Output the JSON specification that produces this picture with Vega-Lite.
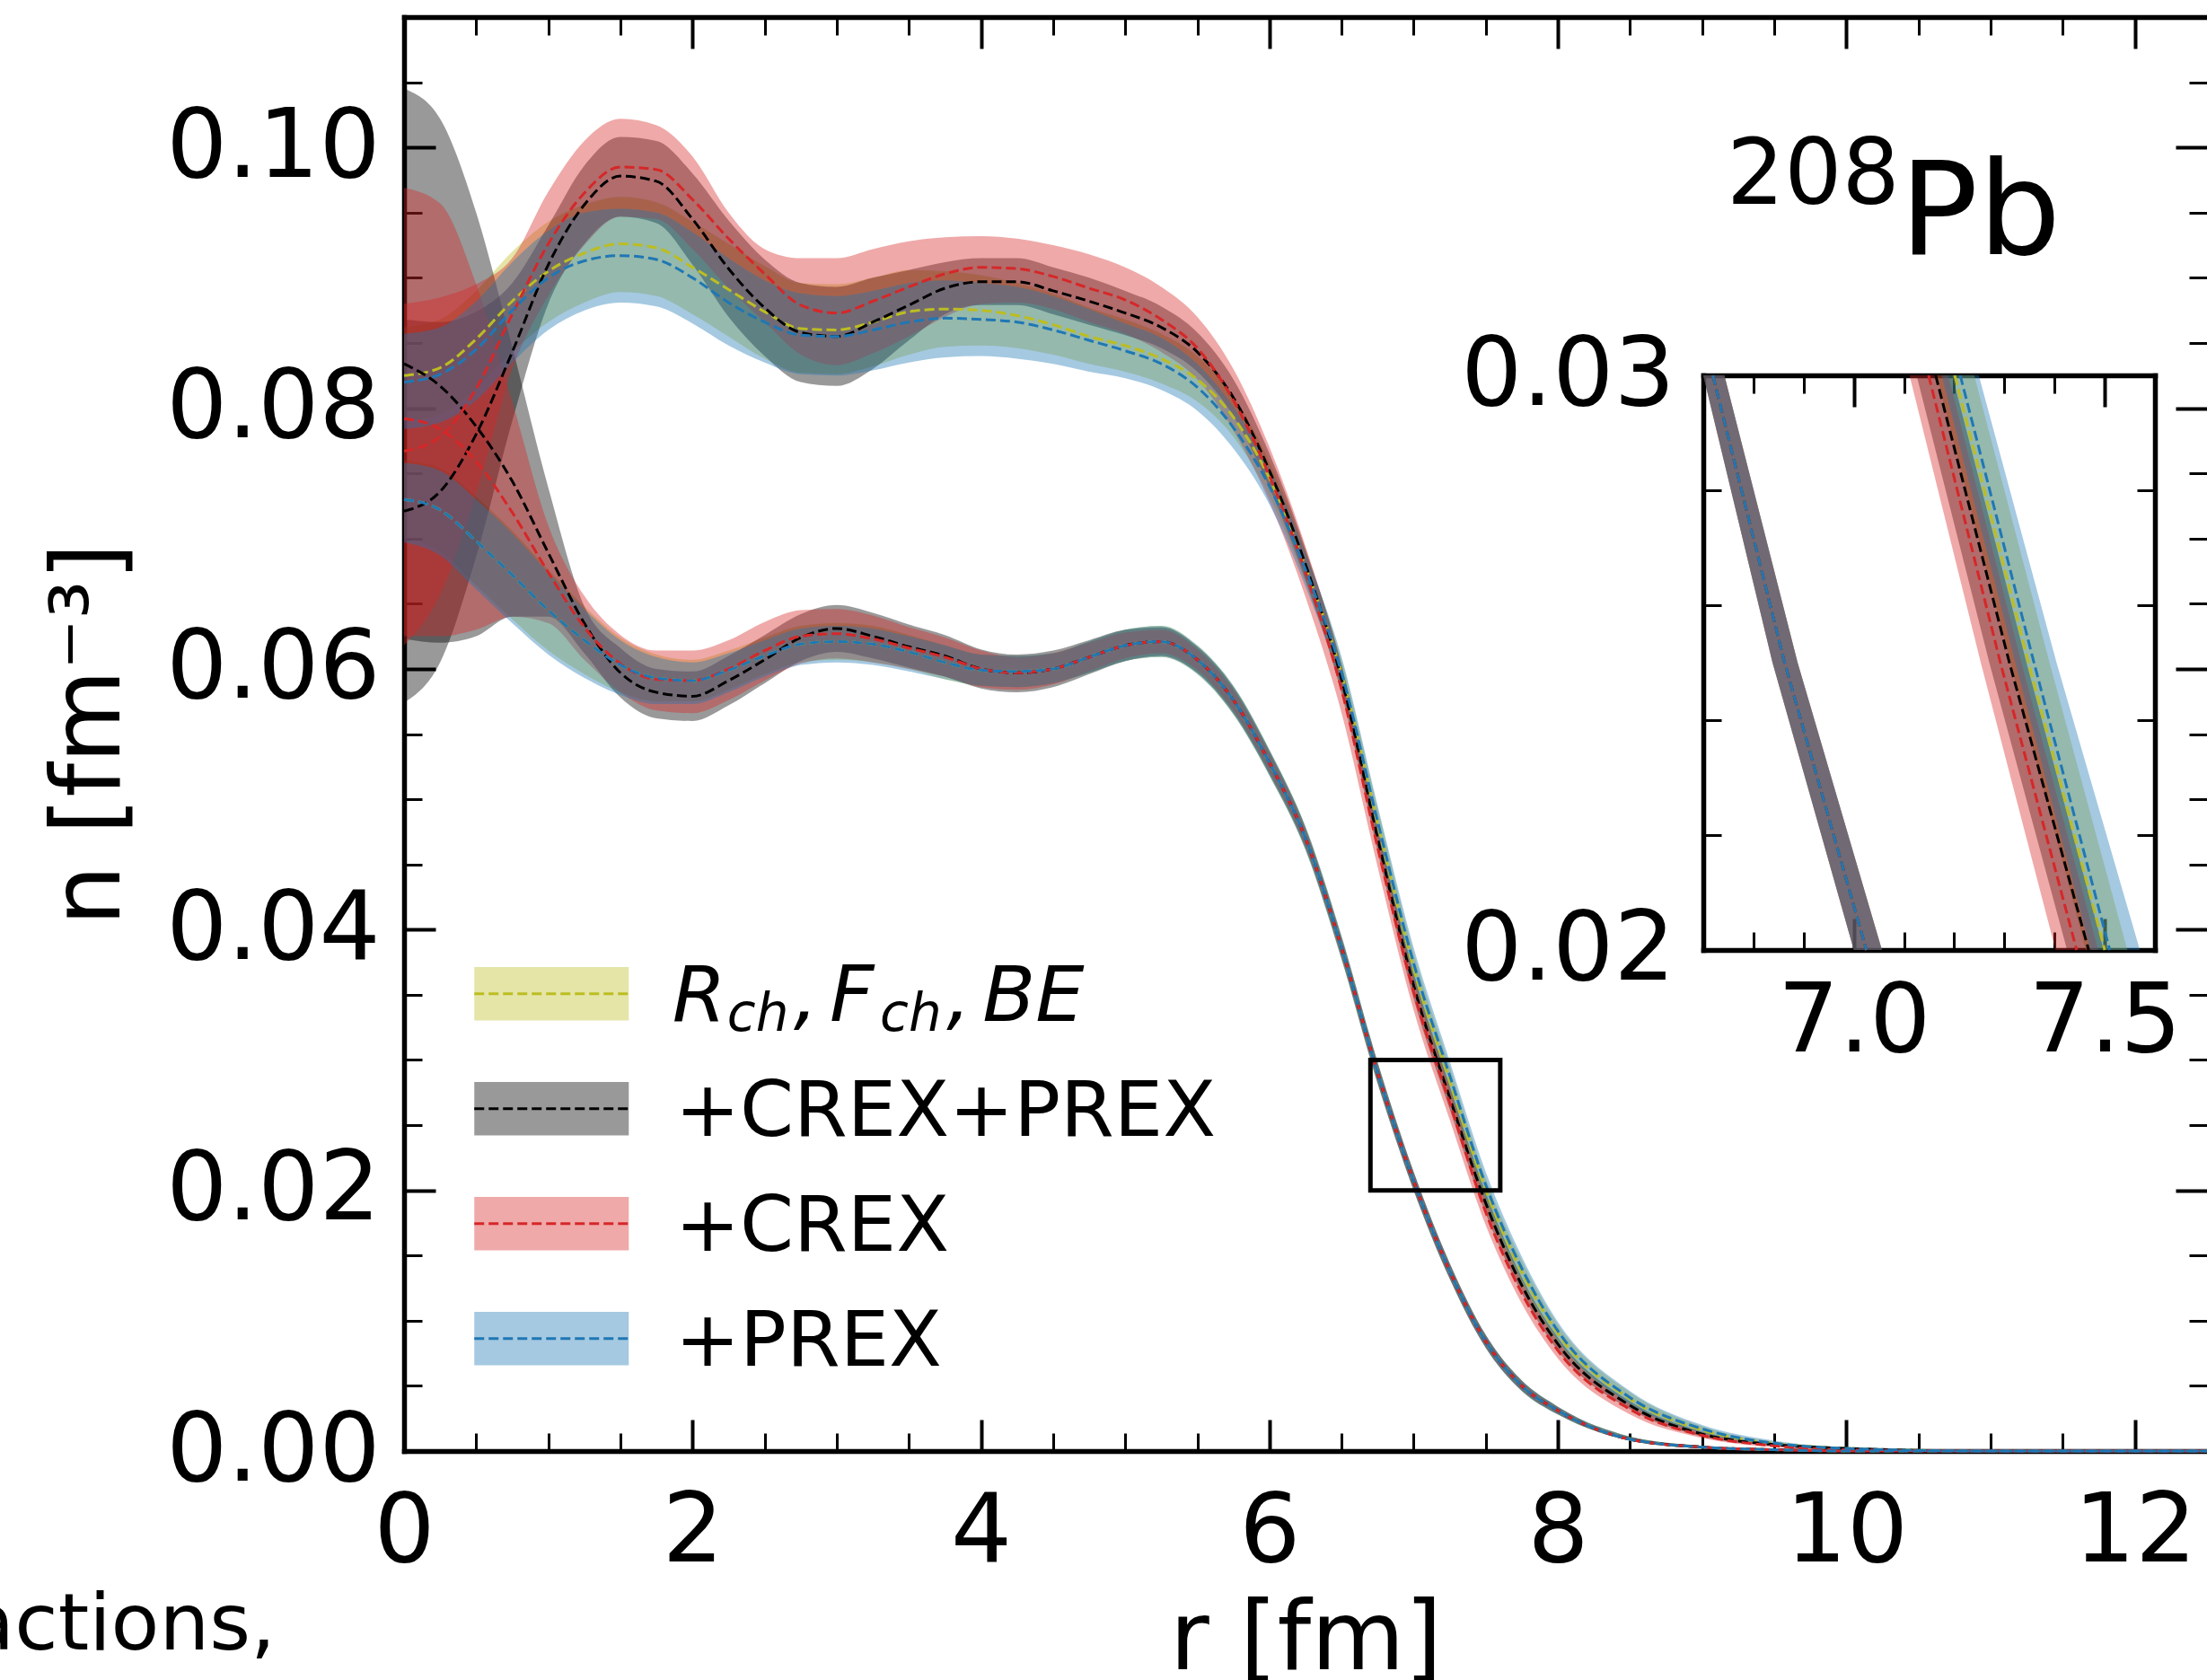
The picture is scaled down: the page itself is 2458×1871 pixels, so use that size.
{
"$schema": "https://vega.github.io/schema/vega-lite/v6.json",
"width": 2008, "height": 1597,
"autosize": {"type": "none"},
"padding": {"left": 450, "top": 19, "right": 0, "bottom": 255},
"background": "white",
"config": {
 "view": {"stroke": null},
 "font": "DejaVu Sans",
 "axis": {"grid": false, "domainColor": "black", "tickColor": "black", "labelColor": "black", "titleColor": "black",
  "labelFont": "DejaVu Sans", "titleFont": "DejaVu Sans", "labelFontSize": 107, "titleFontSize": 107, "titleFontWeight": "normal",
  "domainWidth": 5.5, "labelOverlap": false, "labelFlush": false, "labelBound": false, "labelLimit": 0, "titleLimit": 0, "domainCap": "square"}
},
"datasets": {
"main": [
{"r":0,"f":"n","s":"Y","lo":0.0790,"c":0.0825,"hi":0.0862},{"r":0.25,"f":"n","s":"Y","lo":0.0795,"c":0.0831,"hi":0.0868},{"r":0.5,"f":"n","s":"Y","lo":0.0815,"c":0.0853,"hi":0.0890},{"r":0.75,"f":"n","s":"Y","lo":0.0843,"c":0.0882,"hi":0.0920},{"r":1,"f":"n","s":"Y","lo":0.0866,"c":0.0905,"hi":0.0943},{"r":1.25,"f":"n","s":"Y","lo":0.0881,"c":0.0919,"hi":0.0956},{"r":1.5,"f":"n","s":"Y","lo":0.0889,"c":0.0926,"hi":0.0962},{"r":1.75,"f":"n","s":"Y","lo":0.0886,"c":0.0923,"hi":0.0958},{"r":2,"f":"n","s":"Y","lo":0.0872,"c":0.0908,"hi":0.0943},{"r":2.25,"f":"n","s":"Y","lo":0.0855,"c":0.0891,"hi":0.0926},{"r":2.5,"f":"n","s":"Y","lo":0.0838,"c":0.0874,"hi":0.0909},{"r":2.75,"f":"n","s":"Y","lo":0.0827,"c":0.0861,"hi":0.0896},{"r":3,"f":"n","s":"Y","lo":0.0826,"c":0.0860,"hi":0.0895},{"r":3.25,"f":"n","s":"Y","lo":0.0832,"c":0.0866,"hi":0.0900},{"r":3.5,"f":"n","s":"Y","lo":0.0841,"c":0.0874,"hi":0.0906},{"r":3.75,"f":"n","s":"Y","lo":0.0847,"c":0.0876,"hi":0.0905},{"r":4,"f":"n","s":"Y","lo":0.0848,"c":0.0875,"hi":0.0902},{"r":4.25,"f":"n","s":"Y","lo":0.0846,"c":0.0871,"hi":0.0896},{"r":4.5,"f":"n","s":"Y","lo":0.0841,"c":0.0864,"hi":0.0888},{"r":4.75,"f":"n","s":"Y","lo":0.0834,"c":0.0855,"hi":0.0877},{"r":5,"f":"n","s":"Y","lo":0.0828,"c":0.0848,"hi":0.0868},{"r":5.25,"f":"n","s":"Y","lo":0.0819,"c":0.0838,"hi":0.0857},{"r":5.5,"f":"n","s":"Y","lo":0.0805,"c":0.0822,"hi":0.0840},{"r":5.75,"f":"n","s":"Y","lo":0.0778,"c":0.0793,"hi":0.0809},{"r":6,"f":"n","s":"Y","lo":0.0732,"c":0.0746,"hi":0.0759},{"r":6.25,"f":"n","s":"Y","lo":0.0666,"c":0.0678,"hi":0.0690},{"r":6.5,"f":"n","s":"Y","lo":0.0584,"c":0.0596,"hi":0.0607},{"r":6.75,"f":"n","s":"Y","lo":0.0470,"c":0.0481,"hi":0.0493},{"r":7,"f":"n","s":"Y","lo":0.0359,"c":0.0370,"hi":0.0382},{"r":7.25,"f":"n","s":"Y","lo":0.0274,"c":0.0284,"hi":0.0295},{"r":7.5,"f":"n","s":"Y","lo":0.0190,"c":0.0200,"hi":0.0209},{"r":7.75,"f":"n","s":"Y","lo":0.0129,"c":0.0137,"hi":0.0146},{"r":8,"f":"n","s":"Y","lo":0.0084,"c":0.0090,"hi":0.0097},{"r":8.5,"f":"n","s":"Y","lo":0.0036,"c":0.0040,"hi":0.0045},{"r":9,"f":"n","s":"Y","lo":0.0014,"c":0.0016,"hi":0.0019},{"r":9.5,"f":"n","s":"Y","lo":0.0005,"c":0.0006,"hi":0.0007},{"r":10,"f":"n","s":"Y","lo":0.0001,"c":0.0002,"hi":0.0003},{"r":11,"f":"n","s":"Y","lo":0,"c":0,"hi":0.0001},{"r":12.5,"f":"n","s":"Y","lo":0,"c":0,"hi":0},
{"r":0,"f":"n","s":"K","lo":0.0574,"c":0.0721,"hi":0.0868},{"r":0.25,"f":"n","s":"K","lo":0.0605,"c":0.0736,"hi":0.0866},{"r":0.5,"f":"n","s":"K","lo":0.0686,"c":0.0780,"hi":0.0874},{"r":0.75,"f":"n","s":"K","lo":0.0790,"c":0.0843,"hi":0.0896},{"r":1,"f":"n","s":"K","lo":0.0880,"c":0.0910,"hi":0.0940},{"r":1.25,"f":"n","s":"K","lo":0.0926,"c":0.0956,"hi":0.0986},{"r":1.5,"f":"n","s":"K","lo":0.0947,"c":0.0978,"hi":0.1008},{"r":1.75,"f":"n","s":"K","lo":0.0942,"c":0.0974,"hi":0.1005},{"r":2,"f":"n","s":"K","lo":0.0910,"c":0.0945,"hi":0.0980},{"r":2.25,"f":"n","s":"K","lo":0.0870,"c":0.0907,"hi":0.0944},{"r":2.5,"f":"n","s":"K","lo":0.0840,"c":0.0877,"hi":0.0914},{"r":2.75,"f":"n","s":"K","lo":0.0820,"c":0.0858,"hi":0.0896},{"r":3,"f":"n","s":"K","lo":0.0817,"c":0.0855,"hi":0.0893},{"r":3.25,"f":"n","s":"K","lo":0.0830,"c":0.0866,"hi":0.0900},{"r":3.5,"f":"n","s":"K","lo":0.0852,"c":0.0879,"hi":0.0906},{"r":3.75,"f":"n","s":"K","lo":0.0872,"c":0.0892,"hi":0.0912},{"r":4,"f":"n","s":"K","lo":0.0879,"c":0.0897,"hi":0.0915},{"r":4.25,"f":"n","s":"K","lo":0.0879,"c":0.0897,"hi":0.0915},{"r":4.5,"f":"n","s":"K","lo":0.0872,"c":0.0890,"hi":0.0908},{"r":4.75,"f":"n","s":"K","lo":0.0864,"c":0.0882,"hi":0.0900},{"r":5,"f":"n","s":"K","lo":0.0856,"c":0.0873,"hi":0.0890},{"r":5.25,"f":"n","s":"K","lo":0.0846,"c":0.0862,"hi":0.0878},{"r":5.5,"f":"n","s":"K","lo":0.0828,"c":0.0843,"hi":0.0858},{"r":5.75,"f":"n","s":"K","lo":0.0794,"c":0.0808,"hi":0.0822},{"r":6,"f":"n","s":"K","lo":0.0739,"c":0.0752,"hi":0.0765},{"r":6.25,"f":"n","s":"K","lo":0.0668,"c":0.0680,"hi":0.0692},{"r":6.5,"f":"n","s":"K","lo":0.0581,"c":0.0592,"hi":0.0603},{"r":6.75,"f":"n","s":"K","lo":0.0460,"c":0.0470,"hi":0.0480},{"r":7,"f":"n","s":"K","lo":0.0347,"c":0.0357,"hi":0.0367},{"r":7.25,"f":"n","s":"K","lo":0.0262,"c":0.0271,"hi":0.0280},{"r":7.5,"f":"n","s":"K","lo":0.0182,"c":0.0190,"hi":0.0198},{"r":7.75,"f":"n","s":"K","lo":0.0121,"c":0.0127,"hi":0.0133},{"r":8,"f":"n","s":"K","lo":0.0077,"c":0.0082,"hi":0.0087},{"r":8.5,"f":"n","s":"K","lo":0.0032,"c":0.0035,"hi":0.0038},{"r":9,"f":"n","s":"K","lo":0.0011,"c":0.0013,"hi":0.0015},{"r":9.5,"f":"n","s":"K","lo":0.0004,"c":0.0005,"hi":0.0006},{"r":10,"f":"n","s":"K","lo":0.0001,"c":0.0002,"hi":0.0003},{"r":11,"f":"n","s":"K","lo":0,"c":0,"hi":0},{"r":12.5,"f":"n","s":"K","lo":0,"c":0,"hi":0},
{"r":0,"f":"n","s":"R","lo":0.0618,"c":0.0767,"hi":0.0880},{"r":0.25,"f":"n","s":"R","lo":0.0657,"c":0.0778,"hi":0.0885},{"r":0.5,"f":"n","s":"R","lo":0.0734,"c":0.0815,"hi":0.0895},{"r":0.75,"f":"n","s":"R","lo":0.0830,"c":0.0872,"hi":0.0915},{"r":1,"f":"n","s":"R","lo":0.0886,"c":0.0926,"hi":0.0966},{"r":1.25,"f":"n","s":"R","lo":0.0925,"c":0.0965,"hi":0.1005},{"r":1.5,"f":"n","s":"R","lo":0.0947,"c":0.0985,"hi":0.1022},{"r":1.75,"f":"n","s":"R","lo":0.0945,"c":0.0983,"hi":0.1017},{"r":2,"f":"n","s":"R","lo":0.0922,"c":0.0960,"hi":0.0993},{"r":2.25,"f":"n","s":"R","lo":0.0892,"c":0.0930,"hi":0.0950},{"r":2.5,"f":"n","s":"R","lo":0.0866,"c":0.0903,"hi":0.0922},{"r":2.75,"f":"n","s":"R","lo":0.0841,"c":0.0879,"hi":0.0915},{"r":3,"f":"n","s":"R","lo":0.0833,"c":0.0873,"hi":0.0915},{"r":3.25,"f":"n","s":"R","lo":0.0842,"c":0.0882,"hi":0.0922},{"r":3.5,"f":"n","s":"R","lo":0.0855,"c":0.0893,"hi":0.0928},{"r":3.75,"f":"n","s":"R","lo":0.0870,"c":0.0903,"hi":0.0931},{"r":4,"f":"n","s":"R","lo":0.0880,"c":0.0908,"hi":0.0932},{"r":4.25,"f":"n","s":"R","lo":0.0881,"c":0.0907,"hi":0.0930},{"r":4.5,"f":"n","s":"R","lo":0.0876,"c":0.0901,"hi":0.0925},{"r":4.75,"f":"n","s":"R","lo":0.0866,"c":0.0892,"hi":0.0918},{"r":5,"f":"n","s":"R","lo":0.0857,"c":0.0883,"hi":0.0908},{"r":5.25,"f":"n","s":"R","lo":0.0843,"c":0.0868,"hi":0.0893},{"r":5.5,"f":"n","s":"R","lo":0.0822,"c":0.0846,"hi":0.0870},{"r":5.75,"f":"n","s":"R","lo":0.0783,"c":0.0806,"hi":0.0830},{"r":6,"f":"n","s":"R","lo":0.0728,"c":0.0748,"hi":0.0770},{"r":6.25,"f":"n","s":"R","lo":0.0655,"c":0.0674,"hi":0.0694},{"r":6.5,"f":"n","s":"R","lo":0.0566,"c":0.0584,"hi":0.0602},{"r":6.75,"f":"n","s":"R","lo":0.0448,"c":0.0463,"hi":0.0478},{"r":7,"f":"n","s":"R","lo":0.0338,"c":0.0352,"hi":0.0364},{"r":7.25,"f":"n","s":"R","lo":0.0254,"c":0.0267,"hi":0.0278},{"r":7.5,"f":"n","s":"R","lo":0.0173,"c":0.0183,"hi":0.0192},{"r":7.75,"f":"n","s":"R","lo":0.0113,"c":0.0121,"hi":0.0129},{"r":8,"f":"n","s":"R","lo":0.0071,"c":0.0077,"hi":0.0084},{"r":8.5,"f":"n","s":"R","lo":0.0028,"c":0.0032,"hi":0.0036},{"r":9,"f":"n","s":"R","lo":0.0010,"c":0.0012,"hi":0.0014},{"r":9.5,"f":"n","s":"R","lo":0.0003,"c":0.0004,"hi":0.0005},{"r":10,"f":"n","s":"R","lo":0.0001,"c":0.0001,"hi":0.0002},{"r":11,"f":"n","s":"R","lo":0,"c":0,"hi":0},{"r":12.5,"f":"n","s":"R","lo":0,"c":0,"hi":0},
{"r":0,"f":"n","s":"B","lo":0.0784,"c":0.0820,"hi":0.0857},{"r":0.25,"f":"n","s":"B","lo":0.0789,"c":0.0826,"hi":0.0862},{"r":0.5,"f":"n","s":"B","lo":0.0806,"c":0.0845,"hi":0.0882},{"r":0.75,"f":"n","s":"B","lo":0.0835,"c":0.0875,"hi":0.0912},{"r":1,"f":"n","s":"B","lo":0.0860,"c":0.0900,"hi":0.0936},{"r":1.25,"f":"n","s":"B","lo":0.0875,"c":0.0913,"hi":0.0950},{"r":1.5,"f":"n","s":"B","lo":0.0881,"c":0.0917,"hi":0.0953},{"r":1.75,"f":"n","s":"B","lo":0.0878,"c":0.0914,"hi":0.0950},{"r":2,"f":"n","s":"B","lo":0.0865,"c":0.0900,"hi":0.0935},{"r":2.25,"f":"n","s":"B","lo":0.0848,"c":0.0881,"hi":0.0915},{"r":2.5,"f":"n","s":"B","lo":0.0835,"c":0.0866,"hi":0.0898},{"r":2.75,"f":"n","s":"B","lo":0.0826,"c":0.0856,"hi":0.0888},{"r":3,"f":"n","s":"B","lo":0.0825,"c":0.0855,"hi":0.0886},{"r":3.25,"f":"n","s":"B","lo":0.0829,"c":0.0860,"hi":0.0890},{"r":3.5,"f":"n","s":"B","lo":0.0835,"c":0.0866,"hi":0.0896},{"r":3.75,"f":"n","s":"B","lo":0.0839,"c":0.0869,"hi":0.0898},{"r":4,"f":"n","s":"B","lo":0.0840,"c":0.0868,"hi":0.0896},{"r":4.25,"f":"n","s":"B","lo":0.0838,"c":0.0866,"hi":0.0893},{"r":4.5,"f":"n","s":"B","lo":0.0834,"c":0.0860,"hi":0.0886},{"r":4.75,"f":"n","s":"B","lo":0.0828,"c":0.0852,"hi":0.0876},{"r":5,"f":"n","s":"B","lo":0.0823,"c":0.0844,"hi":0.0865},{"r":5.25,"f":"n","s":"B","lo":0.0814,"c":0.0834,"hi":0.0854},{"r":5.5,"f":"n","s":"B","lo":0.0798,"c":0.0816,"hi":0.0834},{"r":5.75,"f":"n","s":"B","lo":0.0769,"c":0.0785,"hi":0.0801},{"r":6,"f":"n","s":"B","lo":0.0726,"c":0.0740,"hi":0.0754},{"r":6.25,"f":"n","s":"B","lo":0.0663,"c":0.0676,"hi":0.0689},{"r":6.5,"f":"n","s":"B","lo":0.0585,"c":0.0597,"hi":0.0609},{"r":6.75,"f":"n","s":"B","lo":0.0471,"c":0.0483,"hi":0.0495},{"r":7,"f":"n","s":"B","lo":0.0362,"c":0.0374,"hi":0.0386},{"r":7.25,"f":"n","s":"B","lo":0.0277,"c":0.0288,"hi":0.0299},{"r":7.5,"f":"n","s":"B","lo":0.0194,"c":0.0204,"hi":0.0214},{"r":7.75,"f":"n","s":"B","lo":0.0131,"c":0.0140,"hi":0.0149},{"r":8,"f":"n","s":"B","lo":0.0085,"c":0.0092,"hi":0.0099},{"r":8.5,"f":"n","s":"B","lo":0.0036,"c":0.0041,"hi":0.0046},{"r":9,"f":"n","s":"B","lo":0.0014,"c":0.0017,"hi":0.0020},{"r":9.5,"f":"n","s":"B","lo":0.0005,"c":0.0006,"hi":0.0008},{"r":10,"f":"n","s":"B","lo":0.0001,"c":0.0002,"hi":0.0003},{"r":11,"f":"n","s":"B","lo":0,"c":0,"hi":0.0001},{"r":12.5,"f":"n","s":"B","lo":0,"c":0,"hi":0},
{"r":0,"f":"p","s":"Y","lo":0.0700,"c":0.0730,"hi":0.0760},{"r":0.25,"f":"p","s":"Y","lo":0.0690,"c":0.0722,"hi":0.0754},{"r":0.5,"f":"p","s":"Y","lo":0.0664,"c":0.0698,"hi":0.0732},{"r":0.75,"f":"p","s":"Y","lo":0.0638,"c":0.0672,"hi":0.0706},{"r":1,"f":"p","s":"Y","lo":0.0614,"c":0.0645,"hi":0.0676},{"r":1.25,"f":"p","s":"Y","lo":0.0596,"c":0.0622,"hi":0.0648},{"r":1.5,"f":"p","s":"Y","lo":0.0582,"c":0.0603,"hi":0.0624},{"r":1.75,"f":"p","s":"Y","lo":0.0575,"c":0.0593,"hi":0.0611},{"r":2,"f":"p","s":"Y","lo":0.0575,"c":0.0591,"hi":0.0607},{"r":2.25,"f":"p","s":"Y","lo":0.0584,"c":0.0599,"hi":0.0614},{"r":2.5,"f":"p","s":"Y","lo":0.0596,"c":0.0610,"hi":0.0624},{"r":2.75,"f":"p","s":"Y","lo":0.0605,"c":0.0619,"hi":0.0633},{"r":3,"f":"p","s":"Y","lo":0.0607,"c":0.0621,"hi":0.0635},{"r":3.25,"f":"p","s":"Y","lo":0.0605,"c":0.0619,"hi":0.0633},{"r":3.5,"f":"p","s":"Y","lo":0.0600,"c":0.0613,"hi":0.0626},{"r":3.75,"f":"p","s":"Y","lo":0.0592,"c":0.0605,"hi":0.0618},{"r":4,"f":"p","s":"Y","lo":0.0587,"c":0.0599,"hi":0.0611},{"r":4.25,"f":"p","s":"Y","lo":0.0586,"c":0.0598,"hi":0.0610},{"r":4.5,"f":"p","s":"Y","lo":0.0589,"c":0.0600,"hi":0.0612},{"r":4.75,"f":"p","s":"Y","lo":0.0597,"c":0.0609,"hi":0.0621},{"r":5,"f":"p","s":"Y","lo":0.0606,"c":0.0618,"hi":0.0630},{"r":5.25,"f":"p","s":"Y","lo":0.0609,"c":0.0621,"hi":0.0633},{"r":5.5,"f":"p","s":"Y","lo":0.0596,"c":0.0607,"hi":0.0618},{"r":5.75,"f":"p","s":"Y","lo":0.0565,"c":0.0576,"hi":0.0587},{"r":6,"f":"p","s":"Y","lo":0.0518,"c":0.0528,"hi":0.0538},{"r":6.25,"f":"p","s":"Y","lo":0.0461,"c":0.0470,"hi":0.0479},{"r":6.5,"f":"p","s":"Y","lo":0.0377,"c":0.0386,"hi":0.0395},{"r":6.75,"f":"p","s":"Y","lo":0.0282,"c":0.0290,"hi":0.0298},{"r":7,"f":"p","s":"Y","lo":0.0200,"c":0.0207,"hi":0.0214},{"r":7.25,"f":"p","s":"Y","lo":0.0132,"c":0.0138,"hi":0.0144},{"r":7.5,"f":"p","s":"Y","lo":0.0079,"c":0.0084,"hi":0.0089},{"r":7.75,"f":"p","s":"Y","lo":0.0046,"c":0.0050,"hi":0.0054},{"r":8,"f":"p","s":"Y","lo":0.0028,"c":0.0031,"hi":0.0034},{"r":8.5,"f":"p","s":"Y","lo":0.0008,"c":0.0009,"hi":0.0011},{"r":9,"f":"p","s":"Y","lo":0.0002,"c":0.0003,"hi":0.0004},{"r":9.5,"f":"p","s":"Y","lo":0,"c":0.0001,"hi":0.0001},{"r":10,"f":"p","s":"Y","lo":0,"c":0,"hi":0},{"r":11,"f":"p","s":"Y","lo":0,"c":0,"hi":0},{"r":12.5,"f":"p","s":"Y","lo":0,"c":0,"hi":0},
{"r":0,"f":"p","s":"K","lo":0.0623,"c":0.0834,"hi":0.1045},{"r":0.25,"f":"p","s":"K","lo":0.0620,"c":0.0817,"hi":0.1022},{"r":0.5,"f":"p","s":"K","lo":0.0625,"c":0.0786,"hi":0.0950},{"r":0.75,"f":"p","s":"K","lo":0.0640,"c":0.0744,"hi":0.0847},{"r":1,"f":"p","s":"K","lo":0.0640,"c":0.0689,"hi":0.0739},{"r":1.25,"f":"p","s":"K","lo":0.0612,"c":0.0635,"hi":0.0648},{"r":1.5,"f":"p","s":"K","lo":0.0578,"c":0.0597,"hi":0.0616},{"r":1.75,"f":"p","s":"K","lo":0.0562,"c":0.0582,"hi":0.0600},{"r":2,"f":"p","s":"K","lo":0.0560,"c":0.0579,"hi":0.0598},{"r":2.25,"f":"p","s":"K","lo":0.0572,"c":0.0591,"hi":0.0610},{"r":2.5,"f":"p","s":"K","lo":0.0589,"c":0.0607,"hi":0.0626},{"r":2.75,"f":"p","s":"K","lo":0.0606,"c":0.0624,"hi":0.0642},{"r":3,"f":"p","s":"K","lo":0.0613,"c":0.0631,"hi":0.0649},{"r":3.25,"f":"p","s":"K","lo":0.0608,"c":0.0625,"hi":0.0643},{"r":3.5,"f":"p","s":"K","lo":0.0601,"c":0.0617,"hi":0.0634},{"r":3.75,"f":"p","s":"K","lo":0.0594,"c":0.0610,"hi":0.0626},{"r":4,"f":"p","s":"K","lo":0.0585,"c":0.0600,"hi":0.0615},{"r":4.25,"f":"p","s":"K","lo":0.0582,"c":0.0597,"hi":0.0611},{"r":4.5,"f":"p","s":"K","lo":0.0586,"c":0.0600,"hi":0.0614},{"r":4.75,"f":"p","s":"K","lo":0.0596,"c":0.0609,"hi":0.0622},{"r":5,"f":"p","s":"K","lo":0.0606,"c":0.0618,"hi":0.0630},{"r":5.25,"f":"p","s":"K","lo":0.0610,"c":0.0621,"hi":0.0632},{"r":5.5,"f":"p","s":"K","lo":0.0597,"c":0.0607,"hi":0.0617},{"r":5.75,"f":"p","s":"K","lo":0.0566,"c":0.0576,"hi":0.0586},{"r":6,"f":"p","s":"K","lo":0.0519,"c":0.0528,"hi":0.0537},{"r":6.25,"f":"p","s":"K","lo":0.0462,"c":0.0470,"hi":0.0478},{"r":6.5,"f":"p","s":"K","lo":0.0378,"c":0.0386,"hi":0.0394},{"r":6.75,"f":"p","s":"K","lo":0.0282,"c":0.0290,"hi":0.0298},{"r":7,"f":"p","s":"K","lo":0.0200,"c":0.0207,"hi":0.0214},{"r":7.25,"f":"p","s":"K","lo":0.0132,"c":0.0138,"hi":0.0144},{"r":7.5,"f":"p","s":"K","lo":0.0079,"c":0.0084,"hi":0.0089},{"r":7.75,"f":"p","s":"K","lo":0.0046,"c":0.0050,"hi":0.0054},{"r":8,"f":"p","s":"K","lo":0.0028,"c":0.0031,"hi":0.0034},{"r":8.5,"f":"p","s":"K","lo":0.0008,"c":0.0009,"hi":0.0011},{"r":9,"f":"p","s":"K","lo":0.0002,"c":0.0003,"hi":0.0004},{"r":9.5,"f":"p","s":"K","lo":0,"c":0.0001,"hi":0.0001},{"r":10,"f":"p","s":"K","lo":0,"c":0,"hi":0},{"r":11,"f":"p","s":"K","lo":0,"c":0,"hi":0},{"r":12.5,"f":"p","s":"K","lo":0,"c":0,"hi":0},
{"r":0,"f":"p","s":"R","lo":0.0625,"c":0.0792,"hi":0.0969},{"r":0.25,"f":"p","s":"R","lo":0.0625,"c":0.0784,"hi":0.0957},{"r":0.5,"f":"p","s":"R","lo":0.0630,"c":0.0759,"hi":0.0895},{"r":0.75,"f":"p","s":"R","lo":0.0640,"c":0.0720,"hi":0.0805},{"r":1,"f":"p","s":"R","lo":0.0635,"c":0.0674,"hi":0.0710},{"r":1.25,"f":"p","s":"R","lo":0.0607,"c":0.0632,"hi":0.0656},{"r":1.5,"f":"p","s":"R","lo":0.0582,"c":0.0604,"hi":0.0626},{"r":1.75,"f":"p","s":"R","lo":0.0568,"c":0.0592,"hi":0.0614},{"r":2,"f":"p","s":"R","lo":0.0566,"c":0.0591,"hi":0.0614},{"r":2.25,"f":"p","s":"R","lo":0.0576,"c":0.0600,"hi":0.0622},{"r":2.5,"f":"p","s":"R","lo":0.0591,"c":0.0614,"hi":0.0636},{"r":2.75,"f":"p","s":"R","lo":0.0604,"c":0.0625,"hi":0.0645},{"r":3,"f":"p","s":"R","lo":0.0608,"c":0.0627,"hi":0.0646},{"r":3.25,"f":"p","s":"R","lo":0.0605,"c":0.0623,"hi":0.0641},{"r":3.5,"f":"p","s":"R","lo":0.0600,"c":0.0616,"hi":0.0632},{"r":3.75,"f":"p","s":"R","lo":0.0594,"c":0.0609,"hi":0.0624},{"r":4,"f":"p","s":"R","lo":0.0586,"c":0.0600,"hi":0.0614},{"r":4.25,"f":"p","s":"R","lo":0.0584,"c":0.0597,"hi":0.0609},{"r":4.5,"f":"p","s":"R","lo":0.0588,"c":0.0600,"hi":0.0612},{"r":4.75,"f":"p","s":"R","lo":0.0598,"c":0.0609,"hi":0.0620},{"r":5,"f":"p","s":"R","lo":0.0608,"c":0.0618,"hi":0.0628},{"r":5.25,"f":"p","s":"R","lo":0.0612,"c":0.0621,"hi":0.0630},{"r":5.5,"f":"p","s":"R","lo":0.0599,"c":0.0607,"hi":0.0615},{"r":5.75,"f":"p","s":"R","lo":0.0568,"c":0.0576,"hi":0.0584},{"r":6,"f":"p","s":"R","lo":0.0521,"c":0.0528,"hi":0.0535},{"r":6.25,"f":"p","s":"R","lo":0.0464,"c":0.0470,"hi":0.0476},{"r":6.5,"f":"p","s":"R","lo":0.0380,"c":0.0386,"hi":0.0392},{"r":6.75,"f":"p","s":"R","lo":0.0284,"c":0.0290,"hi":0.0296},{"r":7,"f":"p","s":"R","lo":0.0201,"c":0.0207,"hi":0.0213},{"r":7.25,"f":"p","s":"R","lo":0.0133,"c":0.0138,"hi":0.0143},{"r":7.5,"f":"p","s":"R","lo":0.0080,"c":0.0084,"hi":0.0088},{"r":7.75,"f":"p","s":"R","lo":0.0047,"c":0.0050,"hi":0.0053},{"r":8,"f":"p","s":"R","lo":0.0029,"c":0.0031,"hi":0.0033},{"r":8.5,"f":"p","s":"R","lo":0.0008,"c":0.0009,"hi":0.0010},{"r":9,"f":"p","s":"R","lo":0.0002,"c":0.0003,"hi":0.0004},{"r":9.5,"f":"p","s":"R","lo":0,"c":0.0001,"hi":0.0001},{"r":10,"f":"p","s":"R","lo":0,"c":0,"hi":0},{"r":11,"f":"p","s":"R","lo":0,"c":0,"hi":0},{"r":12.5,"f":"p","s":"R","lo":0,"c":0,"hi":0},
{"r":0,"f":"p","s":"B","lo":0.0697,"c":0.0730,"hi":0.0758},{"r":0.25,"f":"p","s":"B","lo":0.0687,"c":0.0722,"hi":0.0752},{"r":0.5,"f":"p","s":"B","lo":0.0661,"c":0.0698,"hi":0.0730},{"r":0.75,"f":"p","s":"B","lo":0.0635,"c":0.0672,"hi":0.0704},{"r":1,"f":"p","s":"B","lo":0.0611,"c":0.0645,"hi":0.0674},{"r":1.25,"f":"p","s":"B","lo":0.0593,"c":0.0622,"hi":0.0646},{"r":1.5,"f":"p","s":"B","lo":0.0580,"c":0.0603,"hi":0.0622},{"r":1.75,"f":"p","s":"B","lo":0.0573,"c":0.0593,"hi":0.0609},{"r":2,"f":"p","s":"B","lo":0.0573,"c":0.0591,"hi":0.0605},{"r":2.25,"f":"p","s":"B","lo":0.0582,"c":0.0599,"hi":0.0612},{"r":2.5,"f":"p","s":"B","lo":0.0594,"c":0.0610,"hi":0.0622},{"r":2.75,"f":"p","s":"B","lo":0.0603,"c":0.0619,"hi":0.0631},{"r":3,"f":"p","s":"B","lo":0.0605,"c":0.0621,"hi":0.0633},{"r":3.25,"f":"p","s":"B","lo":0.0603,"c":0.0619,"hi":0.0631},{"r":3.5,"f":"p","s":"B","lo":0.0598,"c":0.0613,"hi":0.0625},{"r":3.75,"f":"p","s":"B","lo":0.0592,"c":0.0605,"hi":0.0618},{"r":4,"f":"p","s":"B","lo":0.0587,"c":0.0599,"hi":0.0611},{"r":4.25,"f":"p","s":"B","lo":0.0586,"c":0.0598,"hi":0.0610},{"r":4.5,"f":"p","s":"B","lo":0.0589,"c":0.0600,"hi":0.0612},{"r":4.75,"f":"p","s":"B","lo":0.0597,"c":0.0609,"hi":0.0621},{"r":5,"f":"p","s":"B","lo":0.0606,"c":0.0618,"hi":0.0630},{"r":5.25,"f":"p","s":"B","lo":0.0609,"c":0.0621,"hi":0.0633},{"r":5.5,"f":"p","s":"B","lo":0.0596,"c":0.0607,"hi":0.0618},{"r":5.75,"f":"p","s":"B","lo":0.0565,"c":0.0576,"hi":0.0587},{"r":6,"f":"p","s":"B","lo":0.0518,"c":0.0528,"hi":0.0538},{"r":6.25,"f":"p","s":"B","lo":0.0461,"c":0.0470,"hi":0.0479},{"r":6.5,"f":"p","s":"B","lo":0.0377,"c":0.0386,"hi":0.0395},{"r":6.75,"f":"p","s":"B","lo":0.0282,"c":0.0290,"hi":0.0298},{"r":7,"f":"p","s":"B","lo":0.0200,"c":0.0207,"hi":0.0214},{"r":7.25,"f":"p","s":"B","lo":0.0132,"c":0.0138,"hi":0.0144},{"r":7.5,"f":"p","s":"B","lo":0.0079,"c":0.0084,"hi":0.0089},{"r":7.75,"f":"p","s":"B","lo":0.0046,"c":0.0050,"hi":0.0054},{"r":8,"f":"p","s":"B","lo":0.0028,"c":0.0031,"hi":0.0034},{"r":8.5,"f":"p","s":"B","lo":0.0008,"c":0.0009,"hi":0.0011},{"r":9,"f":"p","s":"B","lo":0.0002,"c":0.0003,"hi":0.0004},{"r":9.5,"f":"p","s":"B","lo":0,"c":0.0001,"hi":0.0001},{"r":10,"f":"p","s":"B","lo":0,"c":0,"hi":0},{"r":11,"f":"p","s":"B","lo":0,"c":0,"hi":0},{"r":12.5,"f":"p","s":"B","lo":0,"c":0,"hi":0}
],
"inset": [
{"n":0.03,"f":"p","s":"Y","rl":6.690,"rc":6.719,"rr":6.742},{"n":0.025,"f":"p","s":"Y","rl":6.838,"rc":6.862,"rr":6.888},{"n":0.02,"f":"p","s":"Y","rl":7.000,"rc":7.025,"rr":7.056},
{"n":0.03,"f":"p","s":"K","rl":6.690,"rc":6.719,"rr":6.742},{"n":0.025,"f":"p","s":"K","rl":6.838,"rc":6.862,"rr":6.888},{"n":0.02,"f":"p","s":"K","rl":7.000,"rc":7.025,"rr":7.056},
{"n":0.03,"f":"p","s":"R","rl":6.690,"rc":6.719,"rr":6.742},{"n":0.025,"f":"p","s":"R","rl":6.838,"rc":6.862,"rr":6.888},{"n":0.02,"f":"p","s":"R","rl":7.000,"rc":7.025,"rr":7.056},
{"n":0.03,"f":"p","s":"B","rl":6.690,"rc":6.719,"rr":6.742},{"n":0.025,"f":"p","s":"B","rl":6.838,"rc":6.862,"rr":6.888},{"n":0.02,"f":"p","s":"B","rl":7.000,"rc":7.025,"rr":7.056},
{"n":0.03,"f":"n","s":"Y","rl":7.165,"rc":7.201,"rr":7.240},{"n":0.025,"f":"n","s":"Y","rl":7.312,"rc":7.348,"rr":7.390},{"n":0.02,"f":"n","s":"Y","rl":7.462,"rc":7.500,"rr":7.545},
{"n":0.03,"f":"n","s":"K","rl":7.125,"rc":7.163,"rr":7.196},{"n":0.025,"f":"n","s":"K","rl":7.270,"rc":7.310,"rr":7.344},{"n":0.02,"f":"n","s":"K","rl":7.425,"rc":7.468,"rr":7.498},
{"n":0.03,"f":"n","s":"R","rl":7.111,"rc":7.149,"rr":7.188},{"n":0.025,"f":"n","s":"R","rl":7.253,"rc":7.292,"rr":7.334},{"n":0.02,"f":"n","s":"R","rl":7.402,"rc":7.444,"rr":7.487},
{"n":0.03,"f":"n","s":"B","rl":7.175,"rc":7.212,"rr":7.249},{"n":0.025,"f":"n","s":"B","rl":7.322,"rc":7.359,"rr":7.404},{"n":0.02,"f":"n","s":"B","rl":7.472,"rc":7.510,"rr":7.570}
],
"leg": [{"s":"Y","lab":""},{"s":"K","lab":"+CREX+PREX"},{"s":"R","lab":"+CREX"},{"s":"B","lab":"+PREX"}]
},
"layer": [
{
 "data": {"name": "main"},
 "layer": [
  {"transform": [{"filter": "datum.s === 'Y'"}],
   "mark": {"type": "area", "color": "#bcbd22", "opacity": 0.4, "interpolate": "monotone"},
   "encoding": {
    "x": {"field": "r", "type": "quantitative", "scale": {"domain": [0, 12.5], "nice": false, "zero": false},
     "axis": {"orient": "bottom", "values": [0,0.5,1,1.5,2,2.5,3,3.5,4,4.5,5,5.5,6,6.5,7,7.5,8,8.5,9,9.5,10,10.5,11,11.5,12],
      "tickSize": {"condition": {"test": "datum.value % 2 === 0", "value": -35}, "value": -20},
      "tickWidth": {"condition": {"test": "datum.value % 2 === 0", "value": 4}, "value": 3},
      "labelExpr": "datum.value % 2 === 0 ? format(datum.value, 'd') : ''",
      "labelPadding": 72, "title": "r [fm]", "titleBaseline": "alphabetic", "titleY": 242}},
    "y": {"field": "lo", "type": "quantitative", "scale": {"domain": [0, 0.11], "nice": false, "zero": false},
     "axis": {"orient": "left", "values": [0,0.005,0.01,0.015,0.02,0.025,0.03,0.035,0.04,0.045,0.05,0.055,0.06,0.065,0.07,0.075,0.08,0.085,0.09,0.095,0.1,0.105],
      "tickSize": {"condition": {"test": "round(datum.value*1000) % 20 === 0", "value": -35}, "value": -20},
      "tickWidth": {"condition": {"test": "round(datum.value*1000) % 20 === 0", "value": 4}, "value": 3},
      "labelExpr": "round(datum.value*1000) % 20 === 0 ? format(datum.value, '.2f') : ''",
      "labelPadding": 62, "title": "n [fm⁻³]", "titleX": -318, "titleBaseline": "alphabetic", "titleAlign": "center"}},
    "y2": {"field": "hi"},
    "detail": {"field": "f"}}},
  {"transform": [{"filter": "datum.s === 'K'"}],
   "mark": {"type": "area", "color": "#000000", "opacity": 0.4, "interpolate": "monotone"},
   "encoding": {
    "x": {"field": "r", "type": "quantitative",
     "axis": {"orient": "top", "values": [0,0.5,1,1.5,2,2.5,3,3.5,4,4.5,5,5.5,6,6.5,7,7.5,8,8.5,9,9.5,10,10.5,11,11.5,12],
      "tickSize": {"condition": {"test": "datum.value % 2 === 0", "value": -35}, "value": -20},
      "tickWidth": {"condition": {"test": "datum.value % 2 === 0", "value": 4}, "value": 3},
      "labels": false, "title": null}},
    "y": {"field": "lo", "type": "quantitative",
     "axis": {"orient": "right", "domain": false, "values": [0,0.005,0.01,0.015,0.02,0.025,0.03,0.035,0.04,0.045,0.05,0.055,0.06,0.065,0.07,0.075,0.08,0.085,0.09,0.095,0.1,0.105],
      "tickSize": {"condition": {"test": "round(datum.value*1000) % 20 === 0", "value": -35}, "value": -20},
      "tickWidth": {"condition": {"test": "round(datum.value*1000) % 20 === 0", "value": 4}, "value": 3},
      "labels": false, "title": null}},
    "y2": {"field": "hi"},
    "detail": {"field": "f"}}},
  {"transform": [{"filter": "datum.s === 'R'"}],
   "mark": {"type": "area", "color": "#d62728", "opacity": 0.4, "interpolate": "monotone"},
   "encoding": {"x": {"field": "r", "type": "quantitative", "axis": null}, "y": {"field": "lo", "type": "quantitative", "axis": null}, "y2": {"field": "hi"}, "detail": {"field": "f"}}},
  {"transform": [{"filter": "datum.s === 'B'"}],
   "mark": {"type": "area", "color": "#1f77b4", "opacity": 0.4, "interpolate": "monotone"},
   "encoding": {"x": {"field": "r", "type": "quantitative", "axis": null}, "y": {"field": "lo", "type": "quantitative", "axis": null}, "y2": {"field": "hi"}, "detail": {"field": "f"}}},
  {"transform": [{"filter": "datum.s === 'Y'"}],
   "mark": {"type": "line", "color": "#bcbd22", "strokeWidth": 3, "strokeDash": [11, 5], "interpolate": "monotone"},
   "encoding": {"x": {"field": "r", "type": "quantitative", "axis": null}, "y": {"field": "c", "type": "quantitative", "axis": null}, "detail": {"field": "f"}}},
  {"transform": [{"filter": "datum.s === 'K'"}],
   "mark": {"type": "line", "color": "#000000", "strokeWidth": 3, "strokeDash": [11, 5], "interpolate": "monotone"},
   "encoding": {"x": {"field": "r", "type": "quantitative", "axis": null}, "y": {"field": "c", "type": "quantitative", "axis": null}, "detail": {"field": "f"}}},
  {"transform": [{"filter": "datum.s === 'R'"}],
   "mark": {"type": "line", "color": "#d62728", "strokeWidth": 3, "strokeDash": [11, 5], "interpolate": "monotone"},
   "encoding": {"x": {"field": "r", "type": "quantitative", "axis": null}, "y": {"field": "c", "type": "quantitative", "axis": null}, "detail": {"field": "f"}}},
  {"transform": [{"filter": "datum.s === 'B'"}],
   "mark": {"type": "line", "color": "#1f77b4", "strokeWidth": 3, "strokeDash": [11, 5], "interpolate": "monotone"},
   "encoding": {"x": {"field": "r", "type": "quantitative", "axis": null}, "y": {"field": "c", "type": "quantitative", "axis": null}, "detail": {"field": "f"}}},
  {"data": {"values": [{}]},
   "mark": {"type": "rect", "fill": "transparent", "stroke": "black", "strokeWidth": 5},
   "encoding": {"x": {"datum": 6.7, "axis": null}, "x2": {"datum": 7.6}, "y": {"datum": 0.02, "axis": null}, "y2": {"datum": 0.03}}},
  {"data": {"values": [{}]},
   "mark": {"type": "text", "text": "208", "font": "DejaVu Sans", "fontSize": 101, "align": "right", "baseline": "alphabetic", "color": "black"},
   "encoding": {"x": {"datum": 10.37, "axis": null}, "y": {"datum": 0.0957, "axis": null}}},
  {"data": {"values": [{}]},
   "mark": {"type": "text", "text": "Pb", "font": "DejaVu Sans", "fontSize": 145, "align": "left", "baseline": "alphabetic", "color": "black"},
   "encoding": {"x": {"datum": 10.37, "axis": null}, "y": {"datum": 0.0918, "axis": null}}},
  {"data": {"values": [{}]},
   "mark": {"type": "text", "text": "actions,", "font": "DejaVu Sans", "fontSize": 88, "align": "right", "baseline": "alphabetic", "color": "black"},
   "encoding": {"x": {"datum": -0.89, "axis": null}, "y": {"datum": -0.0152, "axis": null}}}
 ],
 "resolve": {"axis": {"x": "independent", "y": "independent"}}
},
{
 "data": {"name": "inset"},
 "layer": [
  {"transform": [{"filter": "datum.s === 'Y'"}],
   "mark": {"type": "area", "orient": "horizontal", "color": "#bcbd22", "opacity": 0.4},
   "encoding": {
    "y": {"field": "n", "type": "quantitative", "scale": {"domain": [0.02, 0.03], "range": [1039, 399], "nice": false, "zero": false},
     "axis": {"orient": "left", "offset": -1447, "values": [0.02,0.022,0.024,0.026,0.028,0.03],
      "tickSize": {"condition": {"test": "abs(datum.value-0.02) < 0.0001 || abs(datum.value-0.03) < 0.0001", "value": -35}, "value": -20},
      "tickWidth": {"condition": {"test": "abs(datum.value-0.02) < 0.0001 || abs(datum.value-0.03) < 0.0001", "value": 4}, "value": 3},
      "labelExpr": "abs(datum.value-0.02) < 0.0001 || abs(datum.value-0.03) < 0.0001 ? format(datum.value, '.2f') : ''",
      "labelPadding": 67, "title": null}},
    "x": {"field": "rl", "type": "quantitative", "scale": {"domain": [6.7, 7.6], "range": [1447, 1950], "nice": false, "zero": false, "clamp": true},
     "axis": {"orient": "bottom", "offset": -558, "values": [6.8,6.9,7.0,7.1,7.2,7.3,7.4,7.5],
      "tickSize": {"condition": {"test": "abs(datum.value-7) < 0.01 || abs(datum.value-7.5) < 0.01", "value": -35}, "value": -20},
      "tickWidth": {"condition": {"test": "abs(datum.value-7) < 0.01 || abs(datum.value-7.5) < 0.01", "value": 4}, "value": 3},
      "labelExpr": "abs(datum.value-7) < 0.01 || abs(datum.value-7.5) < 0.01 ? format(datum.value, '.1f') : ''",
      "labelPadding": 62, "title": null}},
    "x2": {"field": "rr"},
    "detail": {"field": "f"}}},
  {"transform": [{"filter": "datum.s === 'K'"}],
   "mark": {"type": "area", "orient": "horizontal", "color": "#000000", "opacity": 0.4},
   "encoding": {
    "y": {"field": "n", "type": "quantitative",
     "axis": {"orient": "right", "offset": -58, "values": [0.02,0.022,0.024,0.026,0.028,0.03],
      "tickSize": {"condition": {"test": "abs(datum.value-0.02) < 0.0001 || abs(datum.value-0.03) < 0.0001", "value": -35}, "value": -20},
      "tickWidth": {"condition": {"test": "abs(datum.value-0.02) < 0.0001 || abs(datum.value-0.03) < 0.0001", "value": 4}, "value": 3},
      "labels": false, "title": null}},
    "x": {"field": "rl", "type": "quantitative",
     "axis": {"orient": "top", "offset": -399, "values": [6.8,6.9,7.0,7.1,7.2,7.3,7.4,7.5],
      "tickSize": {"condition": {"test": "abs(datum.value-7) < 0.01 || abs(datum.value-7.5) < 0.01", "value": -35}, "value": -20},
      "tickWidth": {"condition": {"test": "abs(datum.value-7) < 0.01 || abs(datum.value-7.5) < 0.01", "value": 4}, "value": 3},
      "labels": false, "title": null}},
    "x2": {"field": "rr"},
    "detail": {"field": "f"}}},
  {"transform": [{"filter": "datum.s === 'R'"}],
   "mark": {"type": "area", "orient": "horizontal", "color": "#d62728", "opacity": 0.4},
   "encoding": {"y": {"field": "n", "type": "quantitative", "axis": null}, "x": {"field": "rl", "type": "quantitative", "axis": null}, "x2": {"field": "rr"}, "detail": {"field": "f"}}},
  {"transform": [{"filter": "datum.s === 'B'"}],
   "mark": {"type": "area", "orient": "horizontal", "color": "#1f77b4", "opacity": 0.4},
   "encoding": {"y": {"field": "n", "type": "quantitative", "axis": null}, "x": {"field": "rl", "type": "quantitative", "axis": null}, "x2": {"field": "rr"}, "detail": {"field": "f"}}},
  {"transform": [{"filter": "datum.s === 'Y'"}],
   "mark": {"type": "line", "color": "#bcbd22", "strokeWidth": 3, "strokeDash": [11, 5]},
   "encoding": {"y": {"field": "n", "type": "quantitative", "axis": null}, "x": {"field": "rc", "type": "quantitative", "axis": null}, "detail": {"field": "f"}}},
  {"transform": [{"filter": "datum.s === 'K'"}],
   "mark": {"type": "line", "color": "#000000", "strokeWidth": 3, "strokeDash": [11, 5]},
   "encoding": {"y": {"field": "n", "type": "quantitative", "axis": null}, "x": {"field": "rc", "type": "quantitative", "axis": null}, "detail": {"field": "f"}}},
  {"transform": [{"filter": "datum.s === 'R'"}],
   "mark": {"type": "line", "color": "#d62728", "strokeWidth": 3, "strokeDash": [11, 5]},
   "encoding": {"y": {"field": "n", "type": "quantitative", "axis": null}, "x": {"field": "rc", "type": "quantitative", "axis": null}, "detail": {"field": "f"}}},
  {"transform": [{"filter": "datum.s === 'B'"}],
   "mark": {"type": "line", "color": "#1f77b4", "strokeWidth": 3, "strokeDash": [11, 5]},
   "encoding": {"y": {"field": "n", "type": "quantitative", "axis": null}, "x": {"field": "rc", "type": "quantitative", "axis": null}, "detail": {"field": "f"}}}
 ],
 "resolve": {"axis": {"x": "independent", "y": "independent"}}
},
{
 "data": {"name": "leg"},
 "encoding": {
  "y": {"field": "s", "type": "nominal", "scale": {"type": "band", "domain": ["Y","K","R","B"], "range": [1058, 1501.5], "paddingInner": 0.535, "paddingOuter": 0}, "axis": null}
 },
 "layer": [
  {"mark": {"type": "rect", "opacity": 0.4},
   "encoding": {"x": {"datum": 0.487, "scale": {"domain": [0, 12.5], "nice": false, "zero": false}, "axis": null}, "x2": {"datum": 1.558},
    "color": {"field": "s", "type": "nominal", "scale": {"domain": ["Y","K","R","B"], "range": ["#bcbd22","#000000","#d62728","#1f77b4"]}, "legend": null}}},
  {"mark": {"type": "rule", "strokeWidth": 3, "strokeDash": [11, 5]},
   "encoding": {"x": {"datum": 0.487, "axis": null}, "x2": {"datum": 1.558}, "y": {"field": "s", "type": "nominal", "bandPosition": 0.5, "axis": null},
    "color": {"field": "s", "type": "nominal", "legend": null}}},
  {"transform": [{"filter": "datum.s !== 'Y'"}],
   "mark": {"type": "text", "align": "left", "baseline": "alphabetic", "fontSize": 86, "font": "DejaVu Sans", "color": "black"},
   "encoding": {"x": {"datum": 1.88, "axis": null}, "y": {"field": "s", "type": "nominal", "bandPosition": 1, "axis": null}, "text": {"field": "lab"}}},
  {"transform": [{"filter": "datum.s === 'Y'"}],
   "mark": {"type": "text", "text": "R", "align": "left", "baseline": "alphabetic", "fontSize": 86, "fontStyle": "italic", "font": "DejaVu Sans", "color": "black"},
   "encoding": {"x": {"datum": 1.86, "axis": null}, "y": {"field": "s", "type": "nominal", "bandPosition": 1, "axis": null}}},
  {"transform": [{"filter": "datum.s === 'Y'"}],
   "mark": {"type": "text", "text": "ch", "align": "left", "baseline": "alphabetic", "fontSize": 58, "fontStyle": "italic", "font": "DejaVu Sans", "color": "black", "dy": 11},
   "encoding": {"x": {"datum": 2.24, "axis": null}, "y": {"field": "s", "type": "nominal", "bandPosition": 1, "axis": null}}},
  {"transform": [{"filter": "datum.s === 'Y'"}],
   "mark": {"type": "text", "text": ",", "align": "left", "baseline": "alphabetic", "fontSize": 86, "fontStyle": "italic", "font": "DejaVu Sans", "color": "black"},
   "encoding": {"x": {"datum": 2.70, "axis": null}, "y": {"field": "s", "type": "nominal", "bandPosition": 1, "axis": null}}},
  {"transform": [{"filter": "datum.s === 'Y'"}],
   "mark": {"type": "text", "text": "F", "align": "left", "baseline": "alphabetic", "fontSize": 86, "fontStyle": "italic", "font": "DejaVu Sans", "color": "black"},
   "encoding": {"x": {"datum": 2.95, "axis": null}, "y": {"field": "s", "type": "nominal", "bandPosition": 1, "axis": null}}},
  {"transform": [{"filter": "datum.s === 'Y'"}],
   "mark": {"type": "text", "text": "ch", "align": "left", "baseline": "alphabetic", "fontSize": 58, "fontStyle": "italic", "font": "DejaVu Sans", "color": "black", "dy": 11},
   "encoding": {"x": {"datum": 3.30, "axis": null}, "y": {"field": "s", "type": "nominal", "bandPosition": 1, "axis": null}}},
  {"transform": [{"filter": "datum.s === 'Y'"}],
   "mark": {"type": "text", "text": ",", "align": "left", "baseline": "alphabetic", "fontSize": 86, "fontStyle": "italic", "font": "DejaVu Sans", "color": "black"},
   "encoding": {"x": {"datum": 3.76, "axis": null}, "y": {"field": "s", "type": "nominal", "bandPosition": 1, "axis": null}}},
  {"transform": [{"filter": "datum.s === 'Y'"}],
   "mark": {"type": "text", "text": "BE", "align": "left", "baseline": "alphabetic", "fontSize": 86, "fontStyle": "italic", "font": "DejaVu Sans", "color": "black"},
   "encoding": {"x": {"datum": 4.01, "axis": null}, "y": {"field": "s", "type": "nominal", "bandPosition": 1, "axis": null}}}
 ]
}
],
"resolve": {"scale": {"x": "independent", "y": "independent"}}
}
